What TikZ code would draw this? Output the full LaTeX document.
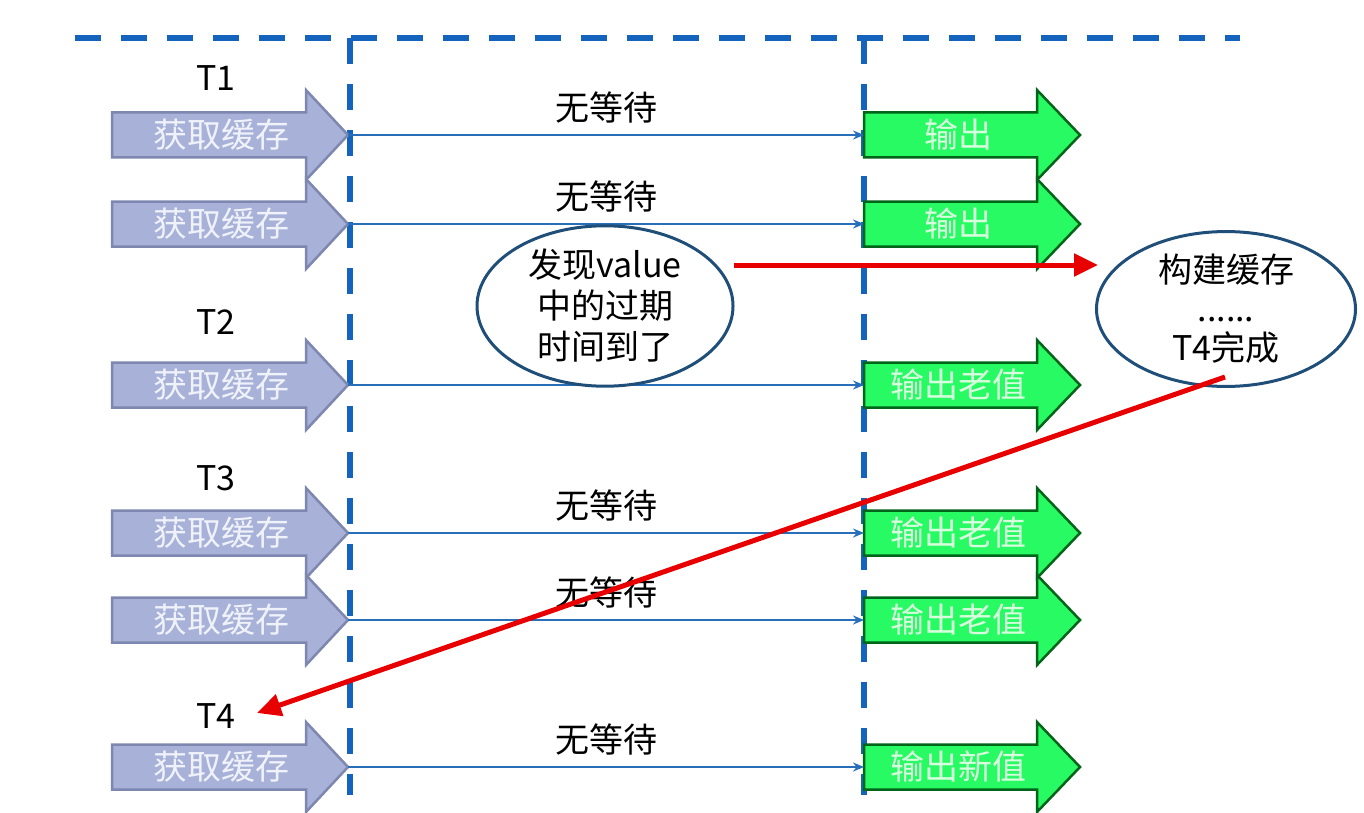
\documentclass[tikz,border=0pt]{standalone}
\usepackage{fontspec}
\setmainfont{Noto Sans CJK SC}
\usetikzlibrary{arrows.meta,shapes.geometric}
\definecolor{dashblue}{RGB}{20,100,190}
\definecolor{lineblue}{RGB}{40,110,185}
\definecolor{getfill}{RGB}{168,178,216}
\definecolor{getdraw}{RGB}{125,135,175}
\definecolor{gettxt}{RGB}{240,242,250}
\definecolor{outfill}{RGB}{40,250,100}
\definecolor{outdraw}{RGB}{0,100,25}
\definecolor{outtxt}{RGB}{215,255,222}
\definecolor{ellblue}{RGB}{31,78,121}
\definecolor{redarr}{RGB}{232,0,0}
\newcommand\getarrow[2]{%
  \draw[getshape] (112,#2-22.5) -- (306,#2-22.5) -- (306,#2-45) -- (348,#2) -- (306,#2+45) -- (306,#2+22.5) -- (112,#2+22.5) -- cycle;
  \node[gettext] (#1) at (221,#2) {获取缓存};
  \coordinate (#1tip) at (348,#2);
}
\newcommand\outarrow[3]{%
  \draw[outshape] (864,#2-22.5) -- (1037,#2-22.5) -- (1037,#2-45) -- (1080,#2) -- (1037,#2+45) -- (1037,#2+22.5) -- (864,#2+22.5) -- cycle;
  \node[outtext] (#1) at (958,#2) {#3};
  \coordinate (#1in) at (864,#2);
}
\begin{document}
\begin{tikzpicture}[x=1pt,y=-1pt,
  bigfont/.style={font=\fontsize{34}{41}\selectfont},
  getshape/.style={fill=getfill,draw=getdraw,line width=2.5pt,line join=miter},
  outshape/.style={fill=outfill,draw=outdraw,line width=2.5pt,line join=miter},
  gettext/.style={bigfont,text=gettxt,inner sep=0pt},
  outtext/.style={bigfont,text=outtxt,inner sep=0pt},
  dashline/.style={draw=dashblue,line width=6pt,dash pattern=on 26pt off 20pt},
  conn/.style={draw=lineblue,line width=2pt,-{Stealth[length=11pt,width=9pt]}},
  wlabel/.style={bigfont,midway,yshift=28pt,inner sep=0pt},
  tlabel/.style={bigfont,inner sep=0pt},
  ell/.style={ellipse,draw=ellblue,line width=3pt,inner sep=0pt,align=center,bigfont},
  redline/.style={draw=redarr,line width=5pt,-{Triangle[length=24pt,width=22pt]}}
]
\useasboundingbox (0,0) rectangle (1364,813);
% dashed frame lines
\coordinate (topL) at (75,38);
\coordinate (topR) at (1240,38);
\coordinate (v1t) at (350,38);
\coordinate (v1b) at (350,795);
\coordinate (v2t) at (864,38);
\coordinate (v2b) at (864,795);
\draw[dashline] (topL) -- (topR);
\draw[dashline] (v1t) -- (v1b);
\draw[dashline] (v2t) -- (v2b);

% thread labels
\node[tlabel] (T1) at (216,78) {T1};
\node[tlabel] (T2) at (216,322) {T2};
\node[tlabel] (T3) at (216,478) {T3};
\node[tlabel] (T4) at (216,716) {T4};

% rows
\getarrow{g1}{135}
\getarrow{g2}{224}
\getarrow{g3}{385}
\getarrow{g4}{533}
\getarrow{g5}{620}
\getarrow{g6}{767}
\outarrow{o1}{135}{输出}
\outarrow{o2}{224}{输出}
\outarrow{o3}{385}{输出老值}
\outarrow{o4}{533}{输出老值}
\outarrow{o5}{620}{输出老值}
\outarrow{o6}{767}{输出新值}

\draw[conn] (g1tip) -- (o1in) node[wlabel] {无等待};
\draw[conn] (g2tip) -- (o2in) node[wlabel] {无等待};
\draw[conn] (g3tip) -- (o3in);
\draw[conn] (g4tip) -- (o4in) node[wlabel] {无等待};
\draw[conn] (g5tip) -- (o5in) node[wlabel] {无等待};
\draw[conn] (g6tip) -- (o6in) node[wlabel] {无等待};

% ellipses
\node[ell,fill=white,minimum width=256pt,minimum height=146pt] (e1) at (605,306)
  {发现value\\中的过期\\时间到了};
\node[ell,minimum width=259pt,minimum height=138pt] (e2) at (1226,309)
  {构建缓存\\[-2pt]......\\[-2pt]T4完成};

% red arrows
\coordinate (r1s) at (734,265);
\coordinate (r1e) at (1098,265);
\coordinate (t4tip) at (257,713);
\draw[redline] (r1s) -- (r1e);
\draw[redline] (1225,377) -- (t4tip);
\end{tikzpicture}
\end{document}
